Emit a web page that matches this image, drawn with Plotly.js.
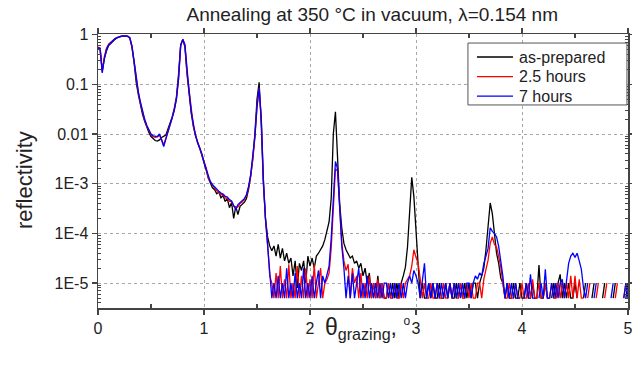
<!DOCTYPE html>
<html>
<head>
<meta charset="utf-8">
<script src="https://cdn.plot.ly/plotly-3.0.1.min.js"></script>
<style>
  html, body { margin: 0; padding: 0; background: #fff; }
  #chart { width: 632px; height: 371px; }
</style>
</head>
<body>
<div id="chart"></div>
<script>
// Grazing-angle scan: first point and step (degrees)
const thetaStart = 0;
const thetaStep = 0.02;

// Reflectivity, one value per step, 0.00 ... 5.00 deg (null = no counts)
const asPrepared = [
  0.52,0.5,0.19,0.33,0.47,0.6,0.66,0.74,0.8,0.86,
  0.9,0.92,0.93,0.93,0.92,0.85,0.56,0.28,0.11,0.063,
  0.038,0.025,0.018,0.0135,0.0107,0.0089,0.0079,0.0074,0.0072,0.0076,
  0.0085,0.0089,0.0095,0.0126,0.0166,0.022,0.033,0.056,0.16,0.63,
  0.79,0.56,0.16,0.063,0.026,0.014,0.0089,0.0066,0.0052,0.0038,
  0.0026,0.0019,0.0013,0.001,8.3e-4,7.6e-4,6.3e-4,6.8e-4,5.2e-4,5.8e-4,
  4.4e-4,5.0e-4,3.3e-4,4.2e-4,2.0e-4,3.5e-4,2.4e-4,3.5e-4,3.8e-4,4.2e-4,
  5.0e-4,7.6e-4,0.0014,0.0032,0.01,0.05,0.11,0.016,0.001,2.0e-4,
  8.5e-5,5.6e-5,4.5e-5,5.6e-5,3.5e-5,6.0e-5,3.2e-5,5.0e-5,2.8e-5,4.0e-5,
  2.5e-5,3.2e-5,1.4e-5,2.8e-5,8e-6,2.5e-5,1.8e-5,2.8e-5,1e-5,3.5e-5,
  2.2e-5,3.2e-5,2.0e-5,3.5e-5,4.0e-5,4.7e-5,5.6e-5,7.5e-5,1.1e-4,1.7e-4,
  5e-4,0.01,0.028,0.0035,4.0e-4,1.26e-4,6.3e-5,4.7e-5,4.0e-5,3.2e-5,
  3.5e-5,2.5e-5,2.8e-5,2.0e-5,2.5e-5,1.4e-5,2.0e-5,1e-5,1.6e-5,5e-6,
  1e-5,5e-6,1.4e-5,5e-6,1e-5,5e-6,5e-6,1e-5,5e-6,1e-5,
  5e-6,1e-5,5e-6,1e-5,1.4e-5,2.1e-5,5.4e-5,2.2e-4,1.35e-3,5.5e-4,
  1e-4,1.6e-5,5e-6,1e-5,5e-6,5e-6,1e-5,5e-6,1e-5,5e-6,
  5e-6,1e-5,5e-6,5e-6,1e-5,5e-6,1e-5,5e-6,5e-6,1e-5,
  5e-6,1e-5,5e-6,1e-5,5e-6,1e-5,5e-6,1e-5,1e-5,5e-6,
  1e-5,1.4e-5,2.0e-5,4.7e-5,1.6e-4,4.1e-4,2.5e-4,1e-4,4e-5,2.5e-5,
  1.26e-5,1e-5,5e-6,1e-5,5e-6,5e-6,1e-5,5e-6,5e-6,1e-5,
  5e-6,5e-6,1e-5,5e-6,5e-6,1e-5,5e-6,5e-6,2.3e-5,5e-6,
  5e-6,1e-5,5e-6,null,5e-6,1e-5,5e-6,1e-5,1.5e-5,5e-6,
  1e-5,5e-6,1e-5,5e-6,5e-6,1e-5,5e-6,null,null,5e-6,
  1e-5,null,null,5e-6,1e-5,null,null,null,5e-6,1e-5,
  null,null,null,5e-6,1e-5,null,null,null,null,5e-6,
  1e-5
];

const hours2p5 = [
  0.56,0.54,0.18,0.36,0.53,0.64,0.7,0.77,0.83,0.87,
  0.91,0.93,0.94,0.94,0.93,0.86,0.58,0.29,0.125,0.068,
  0.042,0.028,0.019,0.0145,0.0115,0.0097,0.0088,0.0086,0.0088,0.0095,
  0.0078,0.006,0.0082,0.011,0.015,0.021,0.031,0.052,0.13,0.6,
  0.8,0.62,0.17,0.068,0.027,0.0145,0.0092,0.0067,0.0053,0.0039,
  0.0027,0.0021,0.0013,0.0011,9.2e-4,8.2e-4,7.2e-4,6.8e-4,6.0e-4,6.0e-4,
  5.2e-4,5.1e-4,4.4e-4,4.4e-4,3.5e-4,3.3e-4,3.4e-4,4.0e-4,4.3e-4,4.8e-4,
  5.8e-4,8.3e-4,0.0014,0.003,0.0085,0.036,0.085,0.021,0.0012,1.9e-4,
  6e-5,1.4e-5,1e-5,5e-6,1.6e-5,5e-6,2.2e-5,5e-6,1.2e-5,5e-6,
  2.4e-5,5e-6,1e-5,5e-6,2.2e-5,5e-6,1.4e-5,5e-6,2e-5,5e-6,
  1.2e-5,5e-6,2.4e-5,5e-6,1e-5,2e-5,5e-6,1e-5,1.2e-5,1.6e-5,
  5e-5,3.2e-4,2e-3,1.8e-3,3.5e-4,6.3e-5,2.8e-5,1.8e-5,2.4e-5,5e-6,
  2e-5,1e-5,1.4e-5,5e-6,1.6e-5,5e-6,1e-5,5e-6,1.4e-5,5e-6,
  1e-5,5e-6,1.2e-5,5e-6,1e-5,5e-6,5e-6,1e-5,5e-6,5e-6,
  1e-5,5e-6,5e-6,1e-5,5e-6,1e-5,1.2e-5,1.4e-5,2.2e-5,4.7e-5,
  3.3e-5,2.5e-5,1.2e-5,5e-6,1e-5,5e-6,5e-6,1e-5,5e-6,5e-6,
  1e-5,5e-6,5e-6,1e-5,5e-6,5e-6,1e-5,5e-6,1e-5,5e-6,
  5e-6,1e-5,5e-6,5e-6,1e-5,5e-6,1e-5,5e-6,5e-6,1e-5,
  1e-5,5e-6,1.2e-5,2e-5,2.9e-5,6.3e-5,8.5e-5,6e-5,5.4e-5,3.4e-5,
  2.1e-5,1e-5,5e-6,5e-6,1e-5,5e-6,5e-6,1e-5,5e-6,5e-6,
  1e-5,5e-6,5e-6,1e-5,5e-6,1.2e-5,5e-6,5e-6,1e-5,5e-6,
  5e-6,1e-5,5e-6,5e-6,1e-5,5e-6,5e-6,1e-5,5e-6,1e-5,
  5e-6,1e-5,5e-6,1.4e-5,5e-6,1.4e-5,5e-6,1.2e-5,5e-6,5e-6,
  null,5e-6,1e-5,null,null,5e-6,1e-5,null,null,5e-6,
  1e-5,null,null,null,5e-6,1e-5,null,null,5e-6,1e-5,
  null
];

const hours7 = [
  0.55,0.52,0.17,0.33,0.5,0.62,0.68,0.76,0.82,0.87,
  0.91,0.93,0.94,0.94,0.93,0.87,0.6,0.3,0.13,0.072,
  0.044,0.029,0.02,0.015,0.0118,0.01,0.0092,0.0089,0.0089,0.01,
  0.0076,0.0056,0.0079,0.011,0.015,0.02,0.03,0.05,0.13,0.6,
  0.81,0.63,0.18,0.07,0.028,0.015,0.0093,0.0068,0.0054,0.004,
  0.0027,0.002,0.0014,0.0011,9.5e-4,8.5e-4,7.6e-4,7.1e-4,6.5e-4,6.2e-4,
  5.6e-4,5.4e-4,4.8e-4,4.5e-4,3.7e-4,3.0e-4,3.8e-4,4.2e-4,4.6e-4,5.0e-4,
  6.0e-4,8.7e-4,0.0015,0.0032,0.0089,0.035,0.083,0.022,0.00126,2.0e-4,
  6.3e-5,1.6e-5,5e-6,1e-5,5e-6,1.4e-5,5e-6,1e-5,5e-6,2e-5,
  5e-6,1e-5,5e-6,1.6e-5,5e-6,1e-5,5e-6,2e-5,5e-6,1e-5,
  5e-6,1.4e-5,5e-6,1e-5,1.8e-5,5e-6,1.4e-5,1e-5,1.6e-5,2.2e-5,
  8e-5,5e-4,0.0028,0.002,3.2e-4,5.6e-5,2e-5,5e-6,1.4e-5,5e-6,
  1.6e-5,5e-6,1e-5,2e-5,5e-6,1e-5,5e-6,1.4e-5,5e-6,1e-5,
  5e-6,1e-5,5e-6,1e-5,5e-6,1e-5,1e-5,5e-6,1e-5,5e-6,
  1e-5,5e-6,1e-5,5e-6,1e-5,5e-6,1e-5,1.4e-5,1e-5,1.8e-5,
  1.4e-5,1e-5,5e-6,1e-5,2.5e-5,5e-6,1e-5,5e-6,1e-5,5e-6,
  1e-5,5e-6,1e-5,5e-6,1e-5,5e-6,1e-5,5e-6,1e-5,5e-6,
  1e-5,5e-6,1e-5,5e-6,1e-5,1e-5,5e-6,1e-5,1.4e-5,1.2e-5,
  1.6e-5,1.4e-5,2.5e-5,3.5e-5,5e-5,1.3e-4,1.1e-4,1e-4,8.5e-5,5.5e-5,
  2.9e-5,1.35e-5,5e-6,1e-5,5e-6,1e-5,5e-6,1e-5,5e-6,5e-6,
  null,5e-6,1e-5,5e-6,1.5e-5,5e-6,5e-6,null,5e-6,1e-5,
  5e-6,1.9e-5,5e-6,5e-6,1e-5,5e-6,1e-5,5e-6,1e-5,1.2e-5,
  5e-6,1.2e-5,2.5e-5,3.5e-5,4e-5,3.3e-5,4e-5,2.8e-5,1.9e-5,8e-6,
  5e-6,1e-5,null,null,5e-6,1e-5,null,null,null,null,
  null,null,5e-6,1e-5,null,null,null,null,5e-6,1e-5,
  5e-6
];

const seriesNames = ['as-prepared', '2.5 hours', '7 hours'];
const seriesColors = ['#000000', '#ff0000', '#0000ff'];
const seriesValues = [asPrepared, hours2p5, hours7];

// Decade labels of the reflectivity axis
const yTickVals = [1e-5, 1e-4, 1e-3, 0.01, 0.1, 1];
const yTickText = ['1E-5', '1E-4', '1E-3', '0.01', '0.1', '1'];
const xTickVals = [0, 1, 2, 3, 4, 5];
const xMinorVals = [0.5, 1.5, 2.5, 3.5, 4.5];

// Minor log ticks: 2..9 within every decade shown
const yMinorVals = [];
for (let d = -6; d <= 0; d++) {
  for (let k = 2; k <= 9; k++) yMinorVals.push(k * Math.pow(10, d));
}

const traces = seriesNames.map((name, i) => ({
  type: 'scatter',
  mode: 'lines',
  name: name,
  x0: thetaStart,
  dx: thetaStep,
  y: seriesValues[i],
  connectgaps: false,
  line: { color: seriesColors[i], width: 1.3 }
}));

const axisColor = '#444';
const textColor = '#222';
const font = 'Liberation Sans, Arial, Helvetica, sans-serif';

// Boxed key in the upper-right corner (paper coordinates)
const key = { x0: 0.698, x1: 0.998, y0: 0.741, y1: 0.967,
              lineX0: 0.715, lineX1: 0.783, textX: 0.790,
              firstRow: 0.916, rowStep: 0.0715 };

const keyShapes = [{
  type: 'rect', xref: 'paper', yref: 'paper', layer: 'above',
  x0: key.x0, x1: key.x1, y0: key.y0, y1: key.y1,
  line: { color: '#555', width: 1 }, fillcolor: '#ffffff'
}].concat(seriesNames.map((name, i) => ({
  type: 'line', xref: 'paper', yref: 'paper', layer: 'above',
  x0: key.lineX0, x1: key.lineX1,
  y0: key.firstRow - i * key.rowStep, y1: key.firstRow - i * key.rowStep,
  line: { color: seriesColors[i], width: 1.3 }
})));

const keyLabels = seriesNames.map((name, i) => ({
  text: name, xref: 'paper', yref: 'paper',
  x: key.textX, y: key.firstRow - i * key.rowStep,
  xanchor: 'left', yanchor: 'middle', showarrow: false,
  font: { size: 16, color: textColor }
}));

const layout = {
  width: 632,
  height: 371,
  margin: { l: 98, r: 4, t: 34, b: 63 },
  paper_bgcolor: '#ffffff',
  plot_bgcolor: '#ffffff',
  font: { family: font, color: textColor, size: 16 },
  showlegend: false,
  title: {
    text: 'Annealing at 350 °C in vacuum, λ=0.154 nm',
    font: { family: font, size: 19, color: textColor },
    xref: 'container', x: 0.589, xanchor: 'center',
    yref: 'container', y: 0.962, yanchor: 'middle'
  },
  xaxis: {
    range: [0, 5],
    tickmode: 'array',
    tickvals: xTickVals,
    ticklabeloverflow: 'allow',
    ticks: 'outside', ticklen: 5, tickwidth: 1.3, tickcolor: axisColor,
    showline: true, linecolor: axisColor, linewidth: 1.5, mirror: 'allticks',
    showgrid: true, gridcolor: '#a8a8a8', gridwidth: 1, griddash: '3px,3px',
    zeroline: false,
    tickfont: { size: 16 },
    minor: { tickmode: 'array', tickvals: xMinorVals, ticks: 'inside', ticklen: 4, tickwidth: 1.2, tickcolor: axisColor, showgrid: false }
  },
  yaxis: {
    type: 'log',
    range: [-5.5, 0.012],
    tickmode: 'array',
    tickvals: yTickVals,
    ticktext: yTickText,
    ticks: 'outside', ticklen: 5, tickwidth: 1.3, tickcolor: axisColor,
    showline: true, linecolor: axisColor, linewidth: 1.5, mirror: 'allticks',
    showgrid: true, gridcolor: '#a8a8a8', gridwidth: 1, griddash: '3px,3px',
    zeroline: false,
    tickfont: { size: 16 },
    minor: { tickmode: 'array', tickvals: yMinorVals, ticks: 'inside', ticklen: 3, tickwidth: 1, tickcolor: axisColor, showgrid: false }
  },
  // axis titles placed as annotations so they sit tight to the tick labels
  annotations: [
    {
      text: 'θ<sub>grazing</sub>, <sup><span style="font-size:12px">o</span></sup>',
      xref: 'paper', yref: 'paper', x: 0.508, y: -0.015,
      xanchor: 'center', yanchor: 'top', showarrow: false,
      font: { size: 23, color: textColor }
    },
    {
      text: 'reflectivity', textangle: -90,
      xref: 'paper', yref: 'paper', x: -0.1396, y: 0.467,
      xanchor: 'center', yanchor: 'middle', showarrow: false,
      font: { size: 22, color: textColor }
    }
  ].concat(keyLabels),
  shapes: keyShapes
};

Plotly.newPlot('chart', traces, layout, { displayModeBar: false, staticPlot: true });
</script>
</body>
</html>
